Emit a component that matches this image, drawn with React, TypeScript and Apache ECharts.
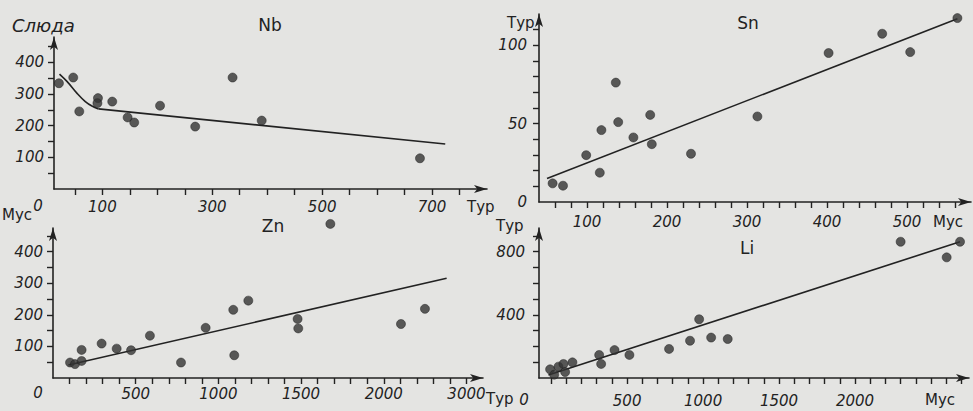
import React, { useEffect, useRef } from "react";
import * as echarts from "echarts";

// ---------- Nb (Слюда vs Тур) ----------
const NB_X = [21, 47, 58, 92, 91, 118, 146, 158, 205, 269, 337, 390, 678];
const NB_Y = [334, 352, 245, 287, 271, 276, 226, 210, 263, 197, 352, 216, 97];
const NB_CURVE_X = [22, 36, 54, 69, 81, 93];
const NB_CURVE_Y = [363, 339, 302, 276, 262, 253];
const NB_LINE_X = [93, 724];
const NB_LINE_Y = [253, 142];
const NB_X_LABELS = [100, 300, 500, 700];
const NB_Y_LABELS = [100, 200, 300, 400];

// ---------- Sn (Тур vs Мус) ----------
const SN_X = [57, 70, 99, 116, 118, 136, 139, 158, 179, 181, 230, 313, 402, 469, 504, 563];
const SN_Y = [11.9, 10.4, 29.9, 18.7, 45.9, 76.2, 51, 41.2, 55.6, 36.9, 30.8, 54.6, 95.1, 107.4, 95.7, 117.4];
const SN_LINE_X = [50, 563];
const SN_LINE_Y = [15, 117];
const SN_X_LABELS = [100, 200, 300, 400, 500];
const SN_Y_LABELS = [0, 50, 100];

// ---------- Zn (Мус vs Тур) ----------
const ZN_X = [103, 133, 173, 173, 294, 385, 472, 586, 774, 923, 1090, 1096, 1181, 1479, 1483, 1677, 2104, 2249];
const ZN_Y = [49, 44, 54, 89, 109, 93, 88, 134, 49, 159, 216, 72, 245, 187, 157, 488, 171, 219];
const ZN_LINE_X = [93, 2380];
const ZN_LINE_Y = [41, 316];
const ZN_X_LABELS = [500, 1000, 1500, 2000, 2500];
const ZN_X_LABEL_TEXTS = ["500", "1000", "1500", "2000", "3000"];
const ZN_Y_LABELS = [100, 200, 300, 400];

// ---------- Li (Тур vs Мус) ----------
const LI_X = [-7, 20, 48, 81, 92, 140, 316, 329, 417, 515, 776, 914, 974, 1053, 1162, 2300, 2603, 2691];
const LI_Y = [55, 21, 72, 89, 38, 99, 146, 89, 177, 146, 184, 236, 372, 256, 247, 863, 764, 863];
const LI_LINE_X = [-18, 2691];
const LI_LINE_Y = [19, 863];
const LI_X_LABELS = [500, 1000, 1500, 2000];
const LI_Y_LABELS = [400, 800];

const INK = "#222222";
const DOT = "#333333";
const BG = "#e4e4e2";
const FONT = "DejaVu Sans";

const range = (a: number, b: number, s: number) => {
  const r: number[] = [];
  for (let v = a; v <= b + 1e-9; v += s) r.push(v);
  return r;
};
const zip = (xs: number[], ys: number[]) => xs.map((x, i) => [x, ys[i]]);

const axisLine = {
  show: true,
  onZero: false,
  symbol: ["none", "arrow"],
  symbolSize: [6, 13],
  lineStyle: { color: INK, width: 1.6 },
};

function xAxis(
  gridIndex: number,
  min: number,
  max: number,
  ticks: number[],
  labels: number[],
  margin: number,
  fmt?: (v: number) => string
) {
  return {
    type: "value",
    gridIndex,
    min,
    max,
    axisLine,
    axisTick: { show: true, customValues: ticks, length: 6, lineStyle: { color: INK, width: 1.4 } },
    axisLabel: {
      customValues: labels,
      margin,
      color: INK,
      fontStyle: "italic",
      fontSize: 15,
      fontFamily: FONT,
      formatter: fmt || ((v: number) => String(v)),
    },
    splitLine: { show: false },
  };
}

function yAxis(gridIndex: number, min: number, max: number, ticks: number[], labels: number[], margin: number) {
  return {
    type: "value",
    gridIndex,
    min,
    max,
    axisLine,
    axisTick: { show: true, customValues: ticks, length: 6, lineStyle: { color: INK, width: 1.4 } },
    axisLabel: {
      customValues: labels,
      margin,
      color: INK,
      fontStyle: "italic",
      fontSize: 15,
      fontFamily: FONT,
    },
    splitLine: { show: false },
  };
}

function scatter(i: number, xs: number[], ys: number[]) {
  return {
    type: "scatter",
    xAxisIndex: i,
    yAxisIndex: i,
    data: zip(xs, ys),
    symbolSize: 9,
    clip: false,
    itemStyle: { color: DOT, borderColor: "#1e1e1e", borderWidth: 0.6 },
    z: 3,
  };
}

function line(i: number, xs: number[], ys: number[], smooth: any = false) {
  return {
    type: "line",
    xAxisIndex: i,
    yAxisIndex: i,
    data: zip(xs, ys),
    symbol: "none",
    smooth,
    lineStyle: { color: INK, width: 1.6 },
    z: 2,
  };
}

function label(text: string, x: number, y: number, opts: any = {}) {
  return {
    type: "text",
    x,
    y,
    style: {
      text,
      fill: INK,
      fontFamily: FONT,
      fontSize: opts.fontSize || 15,
      fontStyle: opts.italic ? "italic" : "normal",
      align: opts.align || "left",
      verticalAlign: "middle",
    },
  };
}

export default function App() {
  const ref = useRef<HTMLDivElement>(null);
  useEffect(() => {
    document.body.style.margin = "0";
    document.body.style.background = BG;
    const chart = echarts.init(ref.current!, null, { renderer: "svg" });
    chart.setOption({
      animation: false,
      backgroundColor: BG,
      grid: [
        { left: 54, top: 37, width: 433, height: 152 },
        { left: 539, top: 14, width: 432, height: 188 },
        { left: 53, top: 228, width: 430, height: 150 },
        { left: 539, top: 228, width: 430, height: 150 },
      ],
      xAxis: [
        xAxis(0, 12, 800, range(50, 750, 50), NB_X_LABELS, 10),
        xAxis(1, 40, 580, range(60, 560, 20), SN_X_LABELS, 12),
        xAxis(2, 0, 2600, range(100, 2500, 100), ZN_X_LABELS, 8, (v: number) =>
          ZN_X_LABEL_TEXTS[ZN_X_LABELS.indexOf(v)] ?? ""
        ),
        xAxis(3, -80, 2750, range(0, 2700, 100), LI_X_LABELS, 15),
      ],
      yAxis: [
        yAxis(0, 0, 480, range(50, 450, 50), NB_Y_LABELS, 10),
        yAxis(1, 0, 120, range(10, 110, 10), SN_Y_LABELS, 12),
        yAxis(2, 0, 475, range(50, 450, 50), ZN_Y_LABELS, 10),
        yAxis(3, 0, 950, range(100, 900, 100), LI_Y_LABELS, 14),
      ],
      series: [
        scatter(0, NB_X, NB_Y),
        line(0, NB_CURVE_X, NB_CURVE_Y, 0.4),
        line(0, NB_LINE_X, NB_LINE_Y),
        scatter(1, SN_X, SN_Y),
        line(1, SN_LINE_X, SN_LINE_Y),
        scatter(2, ZN_X, ZN_Y),
        line(2, ZN_LINE_X, ZN_LINE_Y),
        scatter(3, LI_X, LI_Y),
        line(3, LI_LINE_X, LI_LINE_Y),
      ],
      graphic: [
        label("Слюда", 12, 25, { italic: true, fontSize: 18 }),
        label("Nb", 270, 25, { fontSize: 17, align: "center" }),
        label("Тур", 467, 207),
        label("0", 38, 206, { italic: true, align: "center" }),
        label("Тур", 507, 23),
        label("Sn", 748, 23, { fontSize: 17, align: "center" }),
        label("Мус", 933, 222),
        label("Мус", 2, 215),
        label("Zn", 273, 226, { fontSize: 17, align: "center" }),
        label("Тур", 486, 399),
        label("0", 38, 393, { italic: true, align: "center" }),
        label("Тур", 496, 226),
        label("Li", 747, 248, { fontSize: 17, align: "center" }),
        label("Мус", 925, 400),
        label("0", 524, 400, { italic: true, align: "center" }),
      ],
    });
    return () => chart.dispose();
  }, []);
  return <div ref={ref} style={{ width: 973, height: 411 }} />;
}
